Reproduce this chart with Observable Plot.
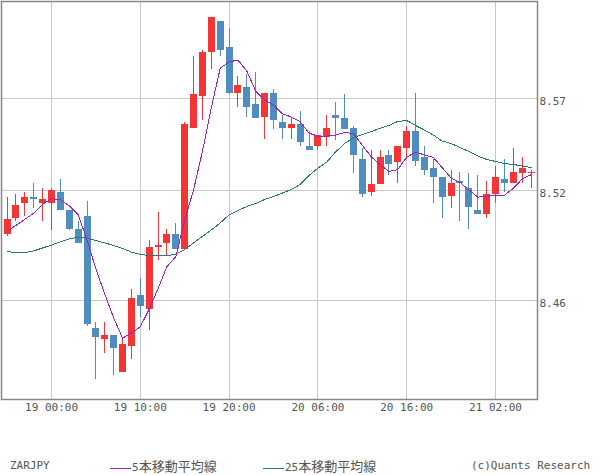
<!DOCTYPE html>
<html>
<head>
<meta charset="utf-8">
<script src="https://cdn.jsdelivr.net/npm/d3@7"></script>
<script src="https://cdn.jsdelivr.net/npm/@observablehq/plot@0.6"></script>
<style>
  html, body { margin: 0; padding: 0; background: #fff; }
  #chart svg { display: block; }
  .legend { position: relative; width: 600px; height: 55px; font-family: "DejaVu Sans Mono", monospace; font-size: 11px; color: #555; }
  .legend .item { position: absolute; top: 39px; line-height: 13px; white-space: nowrap; }
  .legend .sw { display: inline-block; width: 21px; height: 1px; vertical-align: middle; margin-right: 1px; }
  .legend .jp { font-family: "Noto Sans CJK JP", sans-serif; font-size: 13px; }
</style>
</head>
<body>
<div id="chart"></div>
<div class="legend" id="legend"></div>
<script>
// ---- data ----
const symbol = "ZARJPY";
const open  = [8.500,8.509,8.517,8.520,8.517,8.517,8.523,8.513,8.503,8.510,8.449,8.443,8.445,8.425,8.439,8.467,8.459,8.493,8.495,8.500,8.492,8.558,8.575,8.599,8.616,8.602,8.577,8.580,8.571,8.564,8.577,8.561,8.558,8.560,8.548,8.548,8.553,8.565,8.563,8.558,8.541,8.523,8.527,8.543,8.539,8.547,8.556,8.542,8.536,8.531,8.521,8.529,8.525,8.513,8.511,8.522,8.530,8.528,8.533,8.533];
const high  = [8.520,8.522,8.523,8.528,8.525,8.525,8.530,8.513,8.507,8.518,8.452,8.452,8.445,8.444,8.470,8.476,8.497,8.512,8.503,8.506,8.561,8.597,8.600,8.618,8.616,8.612,8.586,8.587,8.588,8.577,8.579,8.565,8.564,8.567,8.556,8.554,8.565,8.572,8.576,8.559,8.547,8.546,8.546,8.546,8.548,8.559,8.577,8.548,8.541,8.531,8.535,8.534,8.533,8.532,8.529,8.537,8.541,8.547,8.542,8.535];
const low   = [8.499,8.507,8.510,8.514,8.507,8.502,8.513,8.502,8.495,8.450,8.421,8.435,8.423,8.425,8.432,8.455,8.448,8.486,8.488,8.492,8.492,8.558,8.562,8.590,8.597,8.576,8.569,8.564,8.563,8.552,8.557,8.552,8.552,8.548,8.546,8.546,8.548,8.551,8.557,8.533,8.520,8.521,8.527,8.532,8.528,8.541,8.537,8.532,8.517,8.509,8.514,8.507,8.503,8.511,8.509,8.517,8.523,8.528,8.528,8.525];
const close = [8.508,8.516,8.520,8.519,8.519,8.524,8.513,8.503,8.495,8.451,8.444,8.445,8.438,8.440,8.465,8.461,8.493,8.494,8.500,8.492,8.560,8.576,8.599,8.618,8.600,8.577,8.581,8.569,8.563,8.577,8.562,8.558,8.560,8.550,8.546,8.554,8.558,8.563,8.557,8.543,8.522,8.527,8.542,8.538,8.548,8.556,8.540,8.535,8.531,8.520,8.528,8.528,8.515,8.511,8.522,8.531,8.528,8.534,8.536,8.534];
const ma5   = [8.5017,8.5050,8.5083,8.5116,8.5164,8.5196,8.5190,8.5156,8.5108,8.4972,8.4812,8.4676,8.4546,8.4436,8.4464,8.4498,8.4594,8.4706,8.4826,8.4880,8.5078,8.5244,8.5454,8.5690,8.5906,8.5940,8.5950,8.5890,8.5780,8.5734,8.5704,8.5658,8.5640,8.5614,8.5552,8.5536,8.5536,8.5542,8.5556,8.5550,8.5486,8.5424,8.5382,8.5344,8.5354,8.5422,8.5448,8.5434,8.5420,8.5364,8.5308,8.5284,8.5244,8.5204,8.5208,8.5214,8.5214,8.5252,8.5302,8.5326];
const ma25  = [8.4908,8.4902,8.4902,8.4911,8.4927,8.4943,8.4960,8.4976,8.4986,8.4981,8.4968,8.4954,8.4941,8.4924,8.4905,8.4892,8.4886,8.4886,8.4886,8.4892,8.4919,8.4954,8.4990,8.5025,8.5063,8.5107,8.5131,8.5153,8.5169,8.5191,8.5207,8.5226,8.5245,8.5273,8.5322,8.5362,8.5395,8.5450,8.5496,8.5526,8.5545,8.5561,8.5578,8.5594,8.5616,8.5621,8.5594,8.5569,8.5542,8.5509,8.5496,8.5474,8.5452,8.5428,8.5409,8.5398,8.5387,8.5382,8.5373,8.5365];

// x ticks: bar index (hourly bars, first bar = 18th 19:00) and their labels
const xTickIdx    = [5, 15, 25, 35, 45, 55];
const xTickLabels = ["19 00:00", "19 10:00", "19 20:00", "20 06:00", "20 16:00", "21 02:00"];
const yTickValues = [8.464, 8.524, 8.574];
const yTickLabels = ["8.46", "8.52", "8.57"];

const legendLabels = ["5本移動平均線", "25本移動平均線"];
const credit = "(c)Quants Research";

// ---- styles ----
const upColor = "#f53535", downColor = "#4f8cc0";
const ma5Color = "#a020c0", ma25Color = "#2a7a72";
const gridColor = "#c8c8c8", frameColor = "#888";

const data = open.map((o, i) => ({
  i, open: o, high: high[i], low: low[i], close: close[i], ma5: ma5[i], ma25: ma25[i],
  dir: close[i] >= o ? "up" : "down"
}));

const chart = Plot.plot({
  width: 600, height: 420,
  marginTop: 1, marginLeft: 1, marginRight: 63, marginBottom: 21,
  style: { fontFamily: "'DejaVu Sans Mono', monospace", fontSize: "11px", color: "#555", background: "#fff" },
  x: { type: "linear", domain: [-0.631, 59.73], axis: null, label: null },
  y: { domain: [8.4102, 8.6269], axis: null, label: null },
  color: { domain: ["up", "down"], range: [upColor, downColor] },
  marks: [
    Plot.gridX(xTickIdx, { stroke: gridColor, strokeOpacity: 1, strokeWidth: 1, shapeRendering: "crispEdges" }),
    Plot.gridY(yTickValues, { stroke: gridColor, strokeOpacity: 1, strokeWidth: 1, shapeRendering: "crispEdges" }),
    Plot.ruleX(data, { x: "i", y1: "low", y2: "high", stroke: "dir", strokeWidth: 1, shapeRendering: "crispEdges" }),
    Plot.ruleX(data, { x: "i", y1: "open", y2: "close", stroke: "dir", strokeWidth: 7, strokeLinecap: "butt", shapeRendering: "crispEdges" }),
    Plot.line(data, { x: "i", y: "ma25", stroke: ma25Color, strokeWidth: 1, shapeRendering: "crispEdges" }),
    Plot.line(data, { x: "i", y: "ma5", stroke: ma5Color, strokeWidth: 1, shapeRendering: "crispEdges" }),
    Plot.frame({ stroke: frameColor, strokeWidth: 1.5 }),
    Plot.axisX(xTickIdx, { label: null, tickSize: 0, tickPadding: 4, tickFormat: d => xTickLabels[xTickIdx.indexOf(d)], fill: "#555" }),
    Plot.axisY(yTickValues, { label: null, anchor: "right", tickSize: 0, tickPadding: 2, dy: 2.5, tickFormat: d => yTickLabels[yTickValues.indexOf(d)], fill: "#555" })
  ]
});
document.getElementById("chart").appendChild(chart);

// ---- legend below the chart ----
const legend = document.getElementById("legend");
function addItem(left, html) {
  const s = document.createElement("span");
  s.className = "item";
  s.style.left = left + "px";
  s.innerHTML = html;
  legend.appendChild(s);
}
function maLabel(txt) {
  const m = txt.match(/^(\d+)(.*)$/);
  return m[1] + '<span class="jp">' + m[2] + '</span>';
}
addItem(10, symbol);
addItem(110, `<span class="sw" style="background:${ma5Color}"></span>` + maLabel(legendLabels[0]));
addItem(263, `<span class="sw" style="background:${ma25Color}"></span>` + maLabel(legendLabels[1]));
addItem(471, credit);
</script>
</body>
</html>
